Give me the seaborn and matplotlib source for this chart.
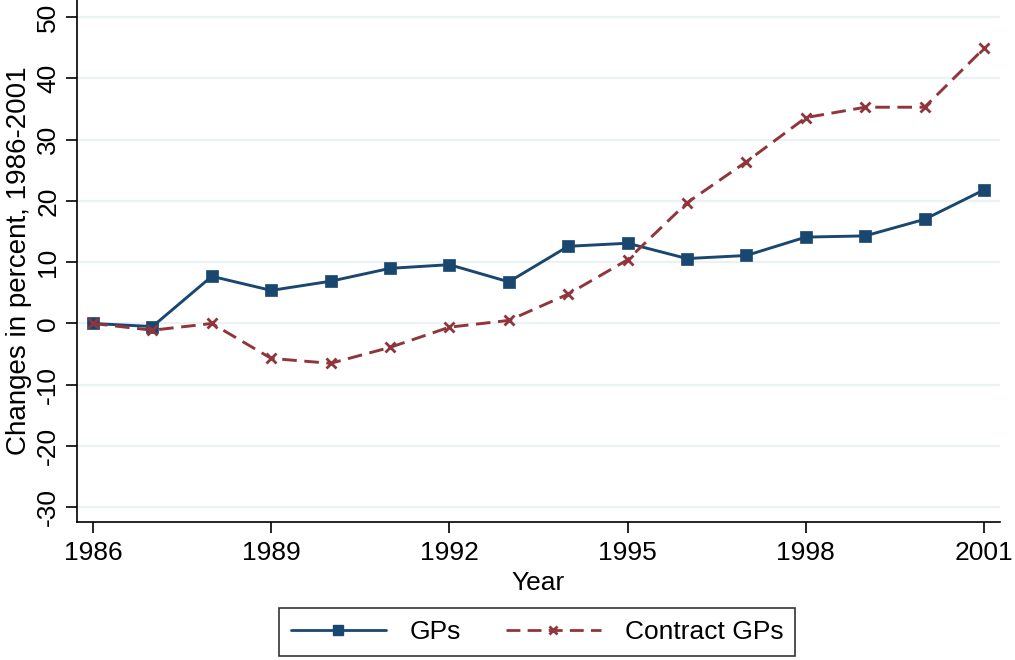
import numpy as np
import pandas as pd
import matplotlib
matplotlib.use("Agg")
import matplotlib.pyplot as plt
import seaborn as sns
from matplotlib.lines import Line2D

years = list(range(1986, 2002))
gps = [0.0, -0.5, 7.7, 5.4, 6.9, 9.0, 9.6, 6.8, 12.6, 13.1, 10.6, 11.1, 14.1, 14.3, 17.0, 21.8]
contract_gps = [0.0, -1.1, 0.0, -5.7, -6.5, -3.9, -0.6, 0.5, 4.8, 10.4, 19.7, 26.4, 33.6, 35.3, 35.3, 44.9]
series_names = ["GPs", "Contract GPs"]
x_ticks = [1986, 1989, 1992, 1995, 1998, 2001]
y_ticks = [-30, -20, -10, 0, 10, 20, 30, 40, 50]

df = pd.DataFrame({
    "Year": years * 2,
    "value": gps + contract_gps,
    "series": [series_names[0]] * len(years) + [series_names[1]] * len(years),
})

sns.set_theme(style="white")
plt.rcParams["font.family"] = ["Liberation Sans", "DejaVu Sans"]
plt.rcParams["text.color"] = "black"
plt.rcParams["axes.labelcolor"] = "black"

blue = "#1a476f"
red = "#90353b"
dash = (5, 2.6)

fig = plt.figure(figsize=(10.15, 6.6), dpi=100)
ax = fig.add_axes([77 / 1015, 1 - 522 / 660, 923 / 1015, 522 / 660])

palette = {"GPs": blue, "Contract GPs": red}
sns.lineplot(data=df, x="Year", y="value", hue="series", style="series",
             hue_order=series_names, style_order=series_names,
             palette=palette, markers={"GPs": "s", "Contract GPs": "X"},
             dashes={"GPs": "", "Contract GPs": dash},
             markersize=8, linewidth=2.1, ax=ax, legend=False)

for line in ax.get_lines():
    if line.get_color() == red:
        line.set_marker("x")
        line.set_markersize(7)
        line.set_markeredgewidth(2)
        line.set_markeredgecolor(red)
    else:
        line.set_markeredgecolor(blue)
        line.set_markeredgewidth(0.5)

ax.set_xlim(1985.73, 2001.27)
ax.set_ylim(-32.4, 52.8)
ax.set_xticks(x_ticks)
ax.set_yticks(y_ticks)
ax.set_yticklabels([str(v) for v in y_ticks], rotation=90, va="center")
ax.tick_params(axis="both", which="both", direction="out", length=8, width=1.2,
               labelsize=19, colors="black", labelcolor="black", bottom=True, left=True)
ax.tick_params(axis="y", pad=4)
ax.tick_params(axis="x", pad=6)
ax.grid(axis="y", color="#eaf2f3", linewidth=1.6)
ax.grid(axis="x", visible=False)
for s in ["top", "right"]:
    ax.spines[s].set_visible(False)
for s in ["left", "bottom"]:
    ax.spines[s].set_color("black")
    ax.spines[s].set_linewidth(1.2)
ax.set_xlabel("Year", fontsize=19, labelpad=4, color="black")
ax.set_ylabel("Changes in percent, 1986-2001", fontsize=20, color="black")
ax.yaxis.set_label_coords(-0.049, 0.5)

handles = [
    Line2D([], [], color=blue, marker="s", markersize=7, linewidth=2),
    Line2D([], [], color=red, marker="x", markersize=6, markeredgewidth=2,
           linewidth=2, linestyle=(0, dash)),
]
leg = fig.legend(handles, series_names, loc="center", bbox_to_anchor=(537 / 1015, 1 - 632 / 660),
                 ncol=2, fontsize=19, frameon=True, fancybox=False, handlelength=3.6,
                 columnspacing=1.7, borderpad=0.45, handletextpad=0.9, borderaxespad=0)
leg.get_frame().set_edgecolor("black")
leg.get_frame().set_linewidth(1.2)
for t in leg.get_texts():
    t.set_color("black")

fig.savefig("out.png", dpi=100, facecolor="white")
